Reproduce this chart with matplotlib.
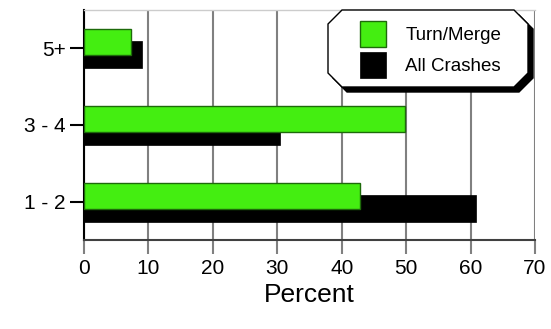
import matplotlib
matplotlib.use('Agg')
import matplotlib.pyplot as plt
from matplotlib.patches import Polygon
import numpy as np

plt.rcParams['font.family'] = ['Liberation Sans', 'DejaVu Sans']

categories = ['1 - 2', '3 - 4', '5+']
turn_merge = [42.9, 49.8, 7.3]
all_crashes = [60.9, 30.4, 9.0]
xticks = [0, 10, 20, 30, 40, 50, 60, 70]

W, H = 551, 329
fig = plt.figure(figsize=(W / 100, H / 100), dpi=100)
ax = fig.add_axes([84 / W, 1 - 240 / H, (535 - 84) / W, (240 - 10) / H])

pos = np.arange(len(categories))
ax.barh(pos - 0.085, all_crashes, height=0.35, color='black', edgecolor='black',
        linewidth=0.5, label='All Crashes', zorder=2)
ax.barh(pos + 0.08, turn_merge, height=0.34, color='#44ee11', edgecolor='#1d6a0a',
        linewidth=1.0, label='Turn/Merge', zorder=3)

ax.set_xlim(0, 70)
ax.set_ylim(-0.5, 2.5)
ax.set_xticks(xticks)
ax.set_yticks(pos)
ax.set_yticklabels(categories)
ax.set_xlabel('Percent', fontsize=19, labelpad=3)
ax.tick_params(axis='x', length=10, width=1.5, color='#808080', labelsize=15, pad=4)
ax.tick_params(axis='y', length=10, width=1.5, color='black', labelsize=15, pad=3)
ax.grid(axis='x', color='#808080', linewidth=1.5)
ax.set_axisbelow(True)

ax.spines['left'].set_linewidth(1.5)
ax.spines['left'].set_color('black')
ax.spines['bottom'].set_linewidth(1.5)
ax.spines['bottom'].set_color('#404040')
ax.spines['top'].set_color('#cccccc')
ax.spines['top'].set_linewidth(1.0)
ax.spines['right'].set_visible(False)

# legend box with clipped corners and drop shadow
x0, x1, y0, y1, c = 328, 528, 10, 87, 14
def octagon(dx, dy):
    pts = [(x0 + c, y0), (x1 - c, y0), (x1, y0 + c), (x1, y1 - c),
           (x1 - c, y1), (x0 + c, y1), (x0, y1 - c), (x0, y0 + c)]
    return [((px + dx) / W, 1 - (py + dy) / H) for px, py in pts]

fig.patches.append(Polygon(octagon(5, 5), closed=True, facecolor='black',
                           edgecolor='black', transform=fig.transFigure, zorder=5))
fig.patches.append(Polygon(octagon(0, 0), closed=True, facecolor='white',
                           edgecolor='black', linewidth=1.0, transform=fig.transFigure, zorder=6))

handles, labels = ax.get_legend_handles_labels()
leg = fig.legend(handles[::-1], labels[::-1], loc='center left',
                 bbox_to_anchor=(351 / W, 1 - 49.5 / H), bbox_transform=fig.transFigure,
                 frameon=False, fontsize=13.5, borderpad=0, handlelength=1.35,
                 handleheight=1.7, labelspacing=0.3, handletextpad=1.05)
leg.set_zorder(7)

fig.savefig('out.png', dpi=100)
